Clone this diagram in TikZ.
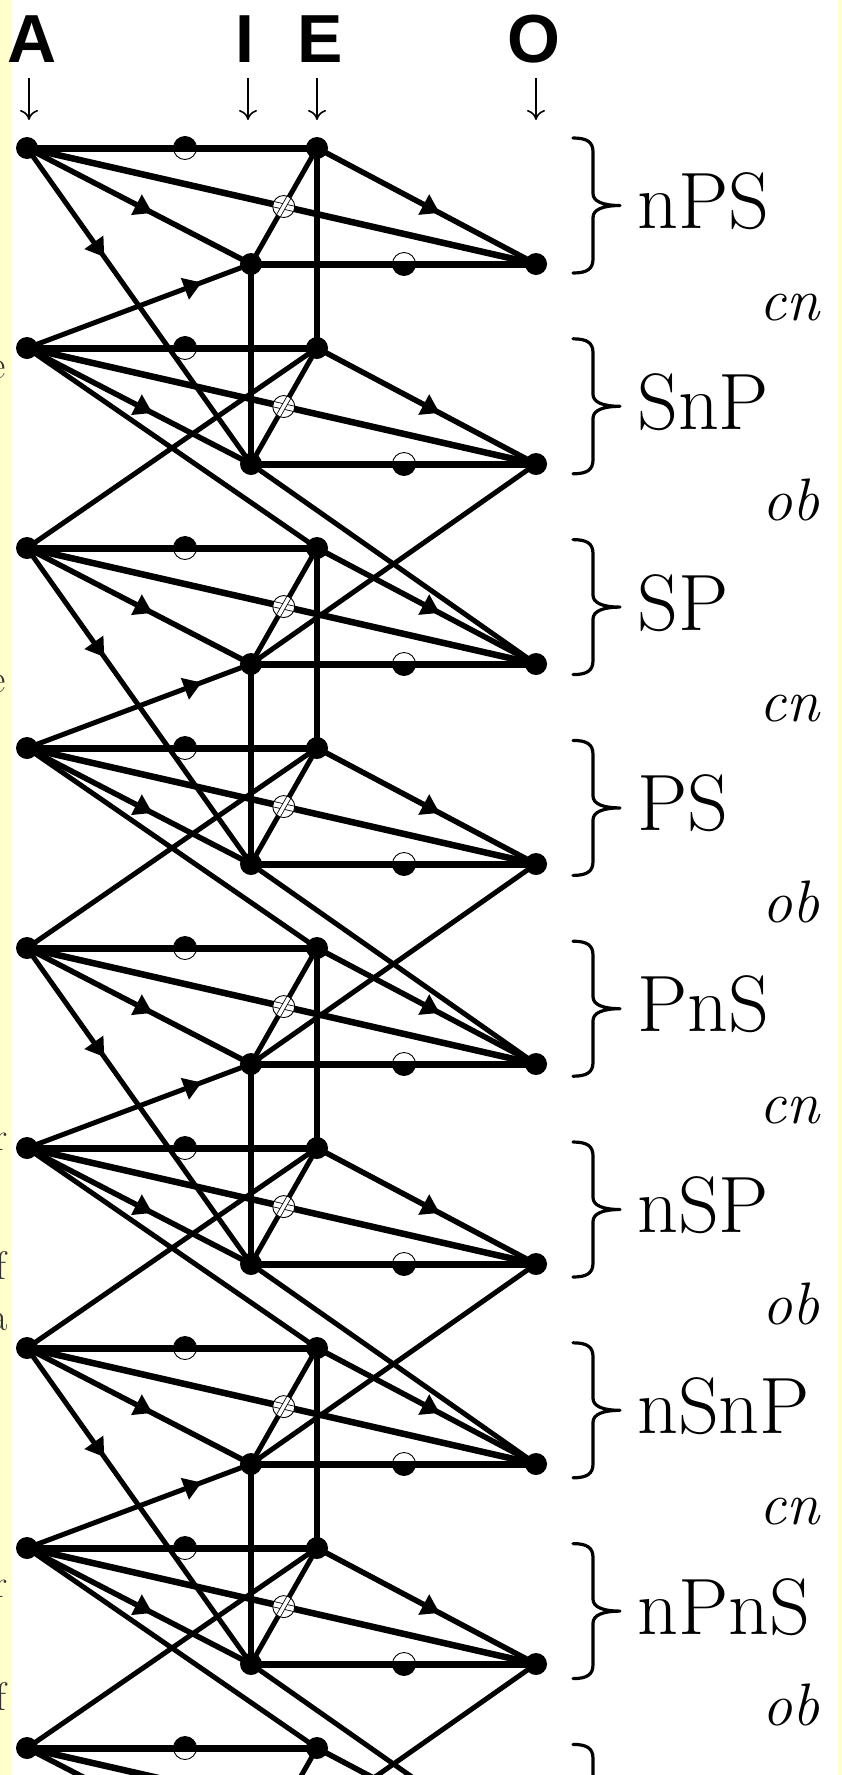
\documentclass[tikz,border=0pt]{standalone}
\usepackage{fontspec}
\newfontfamily\hdfont{Liberation Sans}
\usetikzlibrary{arrows.meta,decorations.markings,calc}
\pgfdeclarelayer{fg}
\pgfsetlayers{main,fg}
\definecolor{strip}{HTML}{FFFFCC}
\tikzset{
  dot/.style={circle, fill=black, inner sep=0pt, minimum size=22pt},
  hline/.style={line width=7pt},
  vline/.style={line width=6pt},
  cdiag/.style={line width=6.5pt},
  cdiagb/.style={line width=5pt},
  subl/.style={line width=5.5pt},
  eqline/.style={line width=5pt},
  arr/.style={postaction={decorate}, decoration={markings, mark=at position #1 with {\arrow{Triangle[length=18pt,width=22pt]}}}},
  lbl/.style={font=\fontsize{80}{80}\selectfont, inner sep=0pt},
  rel/.style={font=\fontsize{60}{60}\selectfont\itshape, inner sep=0pt},
  hd/.style={font=\hdfont\bfseries\fontsize{68}{68}\selectfont, inner sep=0pt},
  frag/.style={font=\fontsize{40}{40}\selectfont, text=black!80, inner sep=0pt},
  bracepath/.style={line width=3.2pt, line cap=round, line join=round},
  darr/.style={line width=1.6pt, -{Computer Modern Rightarrow[length=10pt,width=18pt]}},
}
\begin{document}
\begin{tikzpicture}[x=1pt,y=-1pt]
\useasboundingbox (0,0) rectangle (841,1775);
\clip (0,0) rectangle (841,1775);
\fill[strip] (0,0) rectangle (841,1775);
% text fragments in the left margin
\node[frag, anchor=base east] (f1) at (6,378) {e};
\node[frag, anchor=base east] (f2) at (6,692) {e};
\node[frag, anchor=base east] (f3) at (8,1150) {r};
\node[frag, anchor=base east] (f4) at (7,1279) {f};
\node[frag, anchor=base east] (f5) at (8,1330) {a};
\node[frag, anchor=base east] (f6) at (8,1597) {r};
\node[frag, anchor=base east] (f7) at (7,1710) {f};
\fill[white] (12,0) rectangle (838,1775);
% column heads
\node[hd, anchor=base] (hA) at (32,62) {A};
\node[hd, anchor=base] (hI) at (245,62) {I};
\node[hd, anchor=base] (hE) at (320,62) {E};
\node[hd, anchor=base] (hO) at (534,62) {O};
\foreach \K/\X in {A/29,I/248,E/317,O/536}{
  \coordinate (t\K) at (\X,78);
  \coordinate (b\K) at (\X,120);
  \draw[darr] (t\K) -- (b\K);
}
% vertices
\foreach \K in {0,...,8}{
  \pgfmathsetmacro\ya{148+200*\K}
  \pgfmathsetmacro\yi{\ya+116}
  \begin{pgfonlayer}{fg}
  \node[dot] (A\K) at (27,\ya) {};
  \node[dot] (E\K) at (317,\ya) {};
  \node[dot] (I\K) at (251,\yi) {};
  \node[dot] (O\K) at (536,\yi) {};
  \end{pgfonlayer}
}
% edges inside each square
\foreach \K in {0,...,8}{
  \draw[hline] (A\K.center) -- (E\K.center);
  \draw[hline] (I\K.center) -- (O\K.center);
  \draw[cdiag] (A\K.center) -- (O\K.center);
  \draw[cdiagb] (E\K.center) -- (I\K.center);
  \draw[subl, arr=0.56] (A\K.center) -- (I\K.center);
  \draw[subl, arr=0.56] (E\K.center) -- (O\K.center);
}
% conversion links
\foreach \K/\N in {0/1,2/3,4/5,6/7}{
  \draw[vline] (E\K.center) -- (E\N.center);
  \draw[vline] (I\K.center) -- (I\N.center);
  \draw[eqline, arr=0.345] (A\K.center) -- (I\N.center);
  \draw[eqline, arr=0.78] (A\N.center) -- (I\K.center);
}
% obversion links
\foreach \K/\N in {1/2,3/4,5/6,7/8}{
  \draw[eqline] (A\K.center) -- (E\N.center);
  \draw[eqline] (E\K.center) -- (A\N.center);
  \draw[eqline] (I\K.center) -- (O\N.center);
  \draw[eqline] (O\K.center) -- (I\N.center);
}
% markers
\foreach \K in {0,...,8}{
  \pgfmathsetmacro\ya{148+200*\K}
  \pgfmathsetmacro\yi{\ya+116}
  \begin{pgfonlayer}{fg}
  \coordinate (m\K) at (185,\ya);
  \filldraw[fill=white, line width=0.9pt] (m\K) circle[radius=11.5];
  \fill (m\K) ++(-11.5,0) arc[start angle=180,end angle=360,radius=11.5] -- cycle;
  \fill (m\K) ++(-11.5,-3.5) rectangle ++(23,7);
  \coordinate (s\K) at (404,\yi);
  \filldraw[fill=white, line width=0.9pt] (s\K) circle[radius=11.5];
  \fill (s\K) ++(-11.5,0) arc[start angle=180,end angle=0,radius=11.5] -- cycle;
  \fill (s\K) ++(-11.5,-3.5) rectangle ++(23,7);
  \coordinate (x\K) at (intersection of A\K.center--O\K.center and E\K.center--I\K.center);
  \begin{scope}
    \clip (x\K) circle[radius=11];
    \fill[white] (x\K) circle[radius=11];
    \draw[line width=0.8pt, double=white, double distance=4.5pt] (A\K.center) -- (O\K.center);
    \draw[line width=0.8pt, double=white, double distance=3.5pt] (E\K.center) -- (I\K.center);
  \end{scope}
  \draw[line width=0.9pt] (x\K) circle[radius=11];
  \end{pgfonlayer}
}
% braces and labels
\foreach \K/\TX in {0/nPS,1/SnP,2/SP,3/PS,4/PnS,5/nSP,6/nSnP,7/nPnS,8/nPS}{
  \pgfmathsetmacro\cy{205.5+200.8*\K}
  \draw[bracepath] (573,\cy-67.5) .. controls (587,\cy-67.5) and (593,\cy-63.5) .. (593,\cy-53.5)
     -- (593,\cy-12) .. controls (593,\cy-4) and (603,\cy) .. (620,\cy)
     .. controls (603,\cy) and (593,\cy+4) .. (593,\cy+12)
     -- (593,\cy+53.5) .. controls (593,\cy+63.5) and (587,\cy+67.5) .. (573,\cy+67.5);
  \node[lbl, anchor=base west] (L\K) at (637,\cy+23) {\TX};
}
\foreach \K/\RL in {0/cn,1/ob,2/cn,3/ob,4/cn,5/ob,6/cn,7/ob}{
  \pgfmathsetmacro\my{306+200.8*\K}
  \node[rel, anchor=base east] (R\K) at (820,\my+14) {\RL};
}
\end{tikzpicture}
\end{document}
